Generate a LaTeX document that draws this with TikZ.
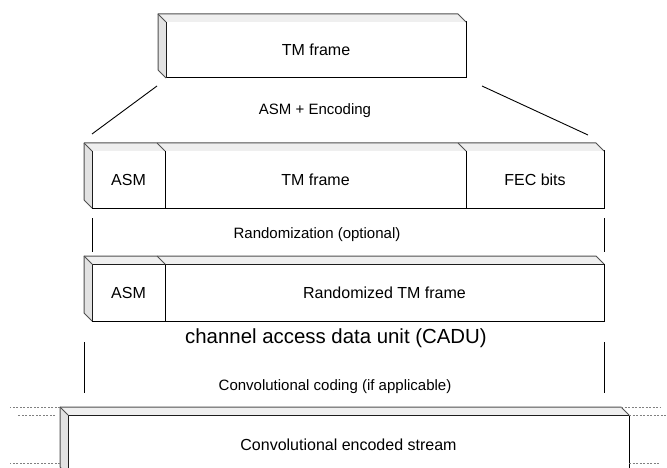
\documentclass[tikz,border=0pt]{standalone}
\usepackage{fontspec}
\setmainfont{Liberation Sans}
\usetikzlibrary{calc}
\definecolor{topgray}{HTML}{EFEFEF}
\definecolor{sidegray}{HTML}{E2E2E2}
\definecolor{edgegray}{HTML}{505050}
\begin{document}
\begin{tikzpicture}[x=1pt,y=-1pt,
  cell/.style={draw=black,line width=1pt,fill=white,inner sep=0pt,outer sep=0pt,font=\fontsize{16}{19}\selectfont},
  edge/.style={draw=edgegray,line width=1pt,line join=round},
  steplabel/.style={font=\fontsize{15}{18}\selectfont},
  link/.style={line width=0.9pt},
  dotline/.style={draw=gray,line width=0.8pt,dash pattern=on 2pt off 1.5pt}]
\useasboundingbox (0,0) rectangle (667,468);
\clip (0,0) rectangle (667,468);
\node[cell,minimum width=300pt,minimum height=56pt] (tm) at (316,50) {TM frame};
\node[steplabel] (enc) at (315,111) {ASM + Encoding};
\node[cell,minimum width=73pt,minimum height=57pt] (asmA) at (128.5,179.5) {ASM};
\node[cell,minimum width=301pt,minimum height=57pt] (tmB) at (315.5,179.5) {TM frame};
\node[cell,minimum width=138pt,minimum height=57pt] (fec) at (535,179.5) {FEC bits};
\node[steplabel] (rnd) at (317,235) {Randomization (optional)};
\node[cell,minimum width=73pt,minimum height=57pt] (asmB) at (128.5,292.5) {ASM};
\node[cell,minimum width=439pt,minimum height=57pt] (rtm) at (384.5,292.5) {Randomized TM frame};
\node[font=\fontsize{20.4}{24}\selectfont] (cadu) at (336,338) {channel access data unit (CADU)};
\node[steplabel] (conv) at (335,387) {Convolutional coding (if applicable)};
\node[cell,minimum width=561pt,minimum height=60pt] (ces) at (348.5,445) {Convolutional encoded stream};
\foreach \l/\r in {tm/tm,asmA/fec,asmB/rtm,ces/ces}{
  \fill[topgray] (\l.north west) -- ++(-8,-8) -- ($(\r.north east)+(-8,-8)$) -- (\r.north east) -- cycle;
  \fill[sidegray] (\l.north west) -- ++(-8,-8) -- ($(\l.south west)+(-8,-8)$) -- (\l.south west) -- cycle;
  \draw[edge] ($(\l.south west)+(-8,-8)$) -- ($(\l.north west)+(-8,-8)$) -- ($(\r.north east)+(-8,-8)$) -- (\r.north east);
  \draw[edge] ($(\l.north west)+(-8,-8)$) -- (\l.north west);
  \draw[edge] ($(\l.south west)+(-8,-8)$) -- (\l.south west);
}
\draw[edge] (asmA.north east) -- ++(-8,-8);
\draw[edge] (tmB.north east) -- ++(-8,-8);
\draw[edge] (asmB.north east) -- ++(-8,-8);
\coordinate (e1) at (157,86); \coordinate (e2) at (92,134);
\coordinate (e3) at (482,86); \coordinate (e4) at (588,135);
\coordinate (r1) at (92,218); \coordinate (r2) at (92,252);
\coordinate (r3) at (604,218); \coordinate (r4) at (604,252);
\coordinate (c1) at (84,342); \coordinate (c2) at (84,393);
\coordinate (c3) at (604,342); \coordinate (c4) at (604,393);
\draw[link] (e1) -- (e2);
\draw[link] (e3) -- (e4);
\draw[link] (r1) -- (r2);
\draw[link] (r3) -- (r4);
\draw[link] (c1) -- (c2);
\draw[link] (c3) -- (c4);
\draw[dotline] ($(ces.north west)+(-8,-8)$) -- ++(-50,0);
\draw[dotline] ($(ces.north west)+(-13,0)$) -- ++(-37,0);
\draw[dotline] ($(ces.north west)+(-8,48)$) -- ++(-50,0);
\draw[dotline] ($(ces.north east)+(-8,-8)$) -- ++(39,0);
\draw[dotline] (ces.north east) -- ++(38,0);
\draw[dotline] ($(ces.north east)+(0,48)$) -- ++(31,0);
\end{tikzpicture}
\end{document}
